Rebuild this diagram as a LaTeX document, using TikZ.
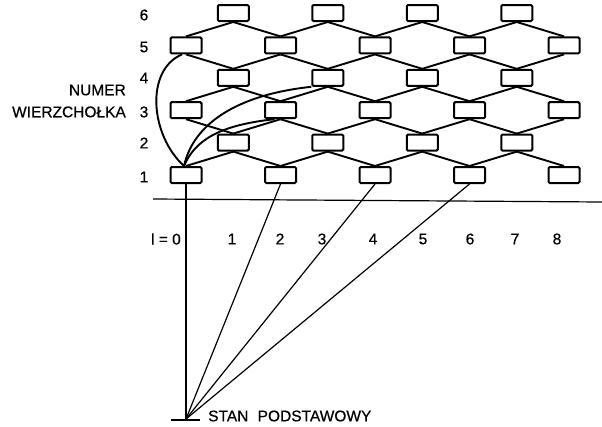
\documentclass[tikz,border=0pt]{standalone}
\usepackage{fontspec}
\setmainfont{Liberation Sans}[FakeBold=0.6]
\begin{document}
\begin{tikzpicture}[x=1pt,y=-1pt,
  box/.style={draw,line width=2pt,fill=white,minimum width=31pt,minimum height=16pt,inner sep=0pt,rounded corners=1.2pt},
  lat/.style={line width=1.9pt},
  thinl/.style={line width=1.2pt},
  lbl/.style={font=\fontsize{15.5}{18}\selectfont,inner sep=0pt}]
\useasboundingbox (0,0) rectangle (602,426);
% boxes
\foreach \r in {1,3,5} \foreach \c in {0,2,4,6,8}
  \node[box] (b\r-\c) at ({186+47.25*\c},{175-32.4*(\r-1)}) {};
\foreach \r in {2,4,6} \foreach \c in {1,3,5,7}
  \node[box] (b\r-\c) at ({186+47.25*\c},{175-32.4*(\r-1)}) {};
% lattice edges
\foreach \r in {1,3,5} \foreach \c in {1,3,5,7} {
  \pgfmathtruncatemacro\up{\r+1}
  \pgfmathtruncatemacro\lft{\c-1}
  \pgfmathtruncatemacro\rgt{\c+1}
  \draw[lat] (b\up-\c.south) -- (b\r-\lft.north);
  \draw[lat] (b\up-\c.south) -- (b\r-\rgt.north);
}
\foreach \r in {2,4} \foreach \c in {1,3,5,7} {
  \pgfmathtruncatemacro\up{\r+1}
  \pgfmathtruncatemacro\lft{\c-1}
  \pgfmathtruncatemacro\rgt{\c+1}
  \draw[lat] (b\up-\lft.south) -- (b\r-\c.north);
  \draw[lat] (b\up-\rgt.south) -- (b\r-\c.north);
}
% curves from vertex 1
\coordinate (st) at ([xshift=-2pt]b1-0.north);
\draw[lat] (st) .. controls (150,135) and (145,70) .. ([xshift=-4pt]b5-0.south);
\draw[lat] (st) .. controls (193,125) and (235,95) .. (b4-3.south west);
\draw[lat] (st) .. controls (195,140) and (220,125) .. ([xshift=-6pt]b3-2.south);
% horizontal line
\coordinate (hl) at (153,199);
\coordinate (hr) at (602,202);
\draw[thinl] (hl) -- (hr);
% ground state
\coordinate (base) at (186,419);
\coordinate (basel) at (171,420);
\coordinate (baser) at (200,420);
\draw[thinl] (basel) -- (baser);
\draw[thinl] (b1-0.south) -- (base);
\draw[thinl] (b1-2.south) -- (base);
\draw[thinl] (b1-4.south) -- (base);
\draw[thinl] (b1-6.south) -- (base);
\node[lbl,anchor=west] (stan) at (208,416) {STAN\hspace{0.6em}PODSTAWOWY};
% vertex numbers
\foreach \r/\y in {1/177,2/143,3/112,4/78,5/47,6/15}
  \node[lbl] (n\r) at (144,\y) {\r};
\node[lbl,anchor=east,align=right] (numer) at (126,101) {NUMER\\[4pt]WIERZCHOŁKA};
% l values
\node[lbl,anchor=east] (l0) at (181,239) {l = 0};
\foreach \v/\x in {1/232,2/280,3/322,4/373,5/423,6/470,7/515,8/557}
  \node[lbl] (l\v) at (\x,239) {\v};
\end{tikzpicture}
\end{document}
